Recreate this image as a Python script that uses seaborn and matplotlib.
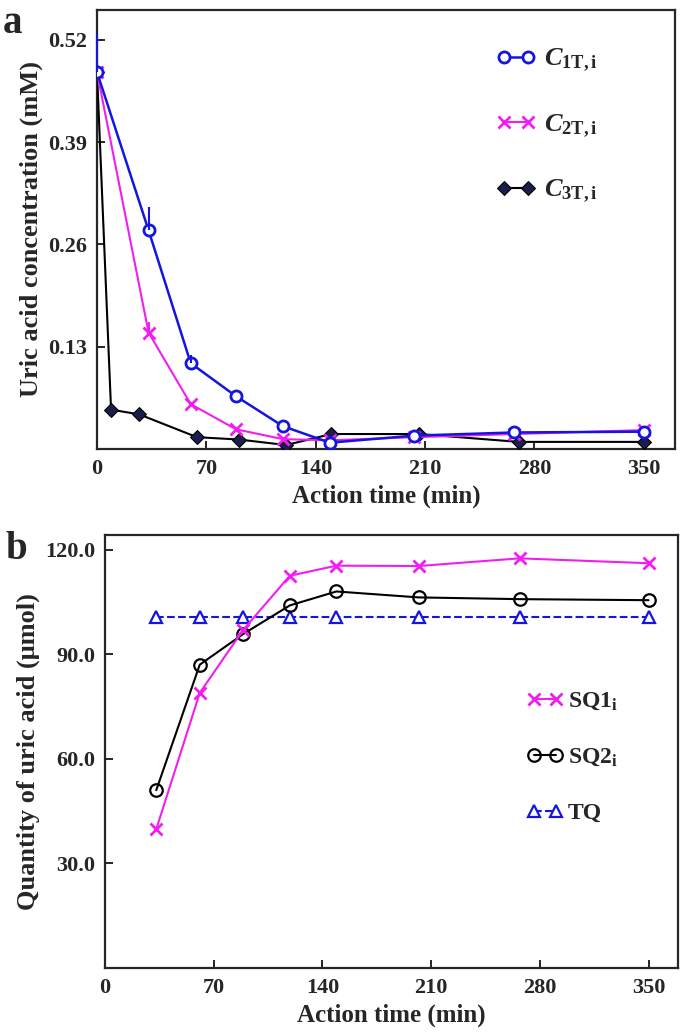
import numpy as np
import pandas as pd
import seaborn as sns
import matplotlib
matplotlib.use("Agg")
import matplotlib.pyplot as plt

# panel a: uric acid concentration (mM) vs action time (min)
t1 = [0, 33, 60, 89, 119, 149, 203, 267, 350]
c1 = [0.479, 0.278, 0.109, 0.067, 0.029, 0.008, 0.017, 0.021, 0.022]
c1_err = [0.048, 0.029, 0.010, 0, 0, 0, 0, 0, 0]
t2 = [0, 33, 60, 89, 119, 149, 203, 267, 350]
c2 = [0.479, 0.148, 0.057, 0.025, 0.0125, 0.011, 0.015, 0.019, 0.024]
c2_err = [0, 0.013, 0, 0, 0, 0, 0, 0, 0]
t3 = [0, 9, 27, 64, 91, 121, 150, 206, 270, 350]
c3 = [0.479, 0.050, 0.044, 0.015, 0.012, 0.005, 0.019, 0.019, 0.009, 0.009]

# panel b: quantity of uric acid (umol)
tb = [33, 61, 89, 119, 149, 202, 267, 350]
sq1 = [39.8, 78.9, 97.0, 112.5, 115.4, 115.3, 117.5, 116.1]
sq2 = [51.0, 87.0, 95.8, 104.0, 108.0, 106.3, 105.8, 105.5]
tq = [100.7, 100.7, 100.7, 100.7, 100.7, 100.7, 100.7, 100.7]

sns.set_style("ticks")
plt.rcParams["font.family"] = ["Liberation Serif", "DejaVu Serif"]
plt.rcParams["font.weight"] = "bold"
plt.rcParams["mathtext.fontset"] = "custom"
plt.rcParams["mathtext.rm"] = "Liberation Serif:bold"
plt.rcParams["mathtext.it"] = "Liberation Serif:italic:bold"
plt.rcParams["mathtext.bf"] = "Liberation Serif:bold"

BLUE = "#1515e0"
PINK = "#f21ef0"
NAVY = "#1b1d4a"

fig = plt.figure(figsize=(6.85, 10.35), dpi=100)
ax1 = fig.add_axes([0.1416, 0.5662, 0.8438, 0.4242])
ax2 = fig.add_axes([0.1533, 0.0647, 0.8365, 0.4184])


def style_axes(ax):
    for s in ax.spines.values():
        s.set_linewidth(1.6)
        s.set_visible(True)
    ax.tick_params(direction="in", length=6, width=1.4, labelsize=16,
                   top=False, right=False, pad=7)
    for lab in ax.get_xticklabels() + ax.get_yticklabels():
        lab.set_fontweight("bold")


# ---- panel a
ax1.errorbar(t1, c1, yerr=[np.zeros(len(c1)), c1_err], fmt="none",
             ecolor=BLUE, elinewidth=1.5, capsize=0, clip_on=False, zorder=6)
ax1.errorbar(t2, c2, yerr=[np.zeros(len(c2)), c2_err], fmt="none",
             ecolor=PINK, elinewidth=1.5, capsize=0)
sns.lineplot(x=t3, y=c3, ax=ax1, color="black", lw=1.5, marker="D",
             markersize=7, markerfacecolor=NAVY, markeredgecolor="black",
             label=r"$\mathit{C}_{\mathbf{3T,i}}$", zorder=3)
sns.lineplot(x=t2, y=c2, ax=ax1, color=PINK, lw=1.5, marker="x",
             markersize=8, markeredgewidth=2, markeredgecolor=PINK,
             label=r"$\mathit{C}_{\mathbf{2T,i}}$", zorder=4)
sns.lineplot(x=t1, y=c1, ax=ax1, color=BLUE, lw=1.8, marker="o",
             markersize=8, markerfacecolor="white", markeredgewidth=2,
             markeredgecolor=BLUE, label=r"$\mathit{C}_{\mathbf{1T,i}}$",
             zorder=5)
ax1.set_xlim(0, 370)
ax1.set_ylim(0, 0.558)
ax1.set_xticks([0, 70, 140, 210, 280, 350])
ax1.set_yticks([0.13, 0.26, 0.39, 0.52])
ax1.set_yticklabels(["0.13", "0.26", "0.39", "0.52"])
ax1.set_xlabel("Action time (min)", fontsize=18, fontweight="bold", labelpad=4)
ax1.set_ylabel("Uric acid concentration (mM)", fontsize=19, fontweight="bold",
               labelpad=4)
style_axes(ax1)
h, l = ax1.get_legend_handles_labels()
ax1.legend(h[::-1], l[::-1], loc="upper left", bbox_to_anchor=(0.65, 0.97),
           frameon=False, numpoints=2, handlelength=1.5, handletextpad=0.3,
           labelspacing=1.45, fontsize=19)

# ---- panel b
sns.lineplot(x=tb, y=tq, ax=ax2, color=BLUE, lw=1.5, linestyle="--",
             marker="^", markersize=8, markerfacecolor="white",
             markeredgewidth=1.6, markeredgecolor=BLUE, label="TQ", zorder=3)
sns.lineplot(x=tb, y=sq2, ax=ax2, color="black", lw=1.5, marker="o",
             markersize=9, markerfacecolor="none", markeredgewidth=1.6,
             markeredgecolor="black", label=r"SQ2$_{\mathrm{i}}$", zorder=4)
sns.lineplot(x=tb, y=sq1, ax=ax2, color=PINK, lw=1.5, marker="x",
             markersize=8, markeredgewidth=2, markeredgecolor=PINK,
             label=r"SQ1$_{\mathrm{i}}$", zorder=5)
ax2.set_xlim(0, 369)
ax2.set_ylim(0, 124.2)
ax2.set_xticks([0, 70, 140, 210, 280, 350])
ax2.set_yticks([30, 60, 90, 120])
ax2.set_yticklabels(["30.0", "60.0", "90.0", "120.0"])
ax2.set_xlabel("Action time (min)", fontsize=18, fontweight="bold", labelpad=4)
ax2.set_ylabel("Quantity of uric acid (\u03bcmol)", fontsize=19,
               fontweight="bold", labelpad=4)
style_axes(ax2)
h, l = ax2.get_legend_handles_labels()
ax2.legend(h[::-1], l[::-1], loc="upper left", bbox_to_anchor=(0.70, 0.69),
           frameon=False, numpoints=2, handlelength=1.5, handletextpad=0.2,
           labelspacing=1.45, fontsize=17)

fig.text(0.004, 0.995, "a", fontsize=28, fontweight="bold", va="top")
fig.text(0.008, 0.487, "b", fontsize=28, fontweight="bold", va="top")

fig.savefig("out.png", dpi=100)
